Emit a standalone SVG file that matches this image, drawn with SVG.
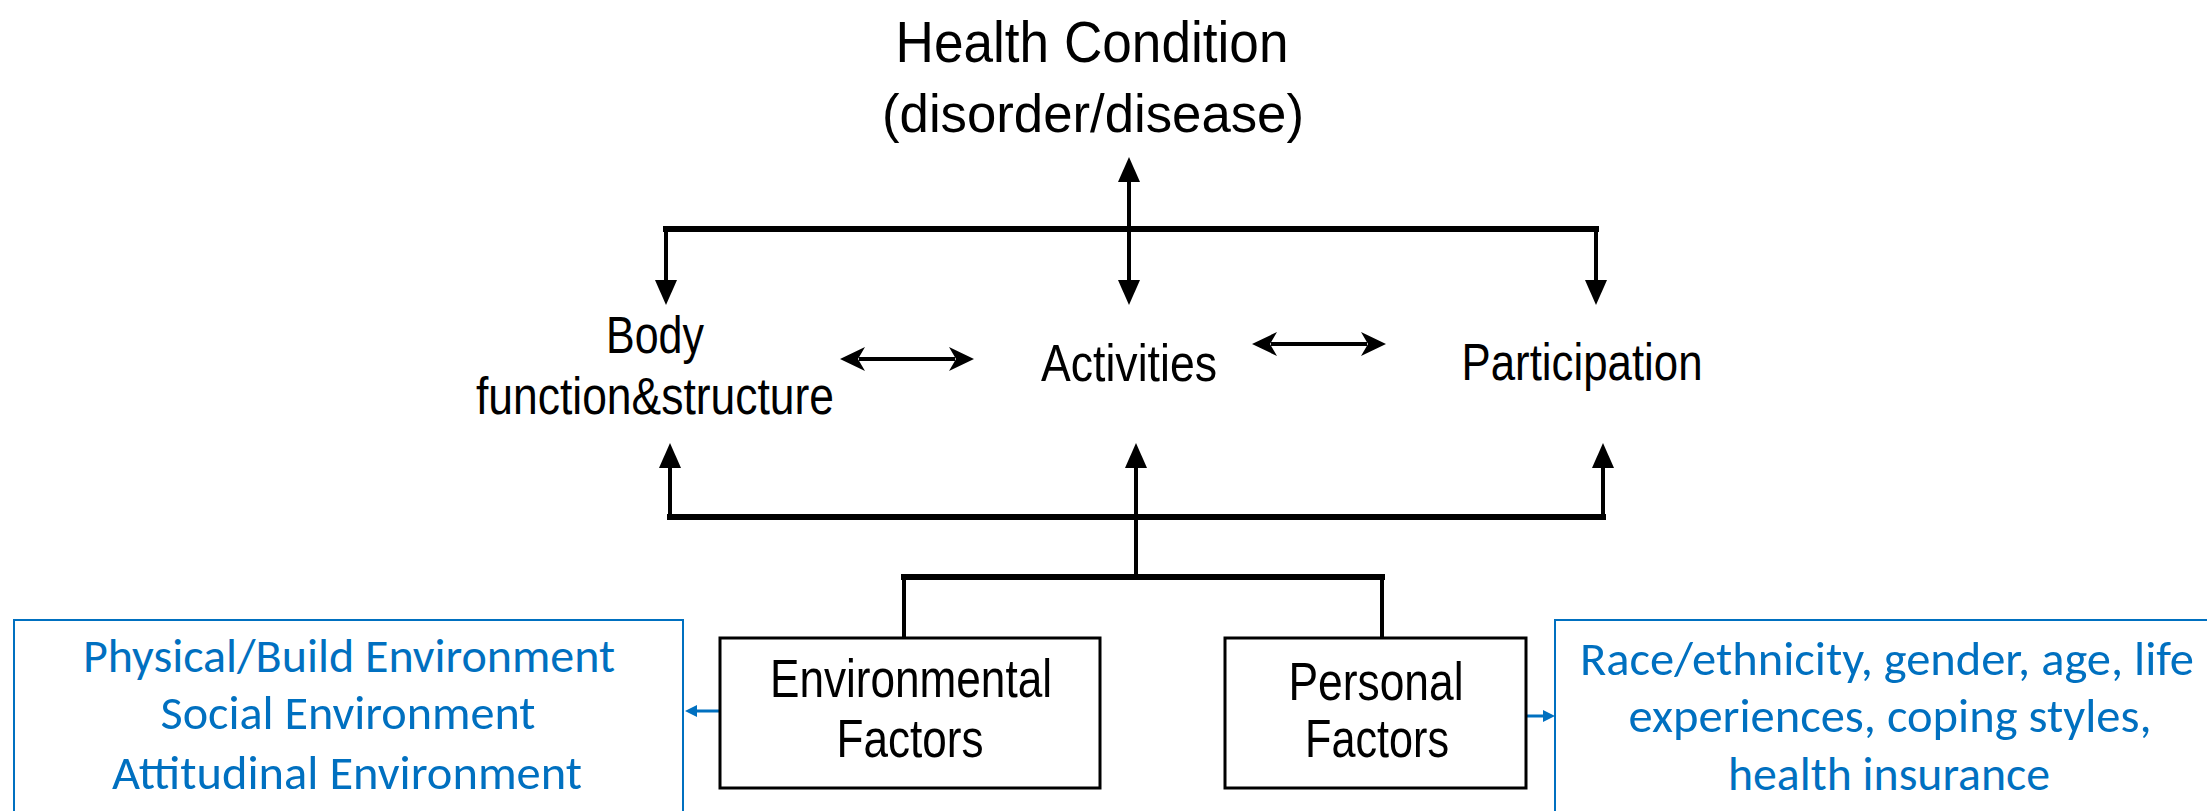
<svg xmlns="http://www.w3.org/2000/svg" width="2207" height="811" viewBox="0 0 2207 811">
<style>
.lbl{font-family:"Liberation Sans",Arial,Helvetica,sans-serif;fill:#000;text-anchor:middle}
.blue{font-family:Carlito,Calibri,"Open Sans","Liberation Sans",sans-serif;fill:#0070C0;text-anchor:middle;font-size:48px}
.ln{stroke:#000;stroke-width:4;fill:none}
.thick{stroke:#000;stroke-width:6;fill:none;stroke-linecap:square}
.box{fill:#fff;stroke:#000;stroke-width:3}
.bbox{fill:#fff;stroke:#0070C0;stroke-width:2}
.bln{stroke:#0070C0;stroke-width:3;fill:none}
</style>
<defs>
<marker id="tri" markerUnits="userSpaceOnUse" markerWidth="26" markerHeight="22" refX="1" refY="11" orient="auto-start-reverse">
<path d="M0,0 L25,11 L0,22 z" fill="#000"/>
</marker>
<marker id="barb" markerUnits="userSpaceOnUse" markerWidth="26" markerHeight="26" refX="6" refY="13" orient="auto-start-reverse">
<path d="M0,1 L25,13 L0,25 L7,13 z" fill="#000"/>
</marker>
<marker id="btri" markerUnits="userSpaceOnUse" markerWidth="13" markerHeight="12" refX="1" refY="6" orient="auto">
<path d="M0,0 L12,6 L0,12 z" fill="#0070C0"/>
</marker>
</defs>

<g id="connectors">
<line class="thick" x1="666" y1="229" x2="1596" y2="229"/>
<line class="ln" x1="666" y1="229" x2="666" y2="281" marker-end="url(#tri)"/>
<line class="ln" x1="1129" y1="181" x2="1129" y2="281" marker-start="url(#tri)" marker-end="url(#tri)"/>
<line class="ln" x1="1596" y1="229" x2="1596" y2="281" marker-end="url(#tri)"/>
<line class="ln" x1="859" y1="359" x2="955" y2="359" stroke-width="5" marker-start="url(#barb)" marker-end="url(#barb)"/>
<line class="ln" x1="1271" y1="344" x2="1367" y2="344" stroke-width="5" marker-start="url(#barb)" marker-end="url(#barb)"/>
<line class="thick" x1="670" y1="517" x2="1603" y2="517"/>
<line class="ln" x1="670" y1="517" x2="670" y2="467" marker-end="url(#tri)"/>
<line class="ln" x1="1136" y1="577" x2="1136" y2="467" marker-end="url(#tri)"/>
<line class="ln" x1="1603" y1="517" x2="1603" y2="467" marker-end="url(#tri)"/>
<line class="thick" x1="904" y1="577" x2="1382" y2="577"/>
<line class="ln" x1="904" y1="577" x2="904" y2="638"/>
<line class="ln" x1="1382" y1="577" x2="1382" y2="638"/>
<line class="bln" x1="730" y1="711" x2="696" y2="711" marker-end="url(#btri)"/>
<line class="bln" x1="1517" y1="716" x2="1544" y2="716" marker-end="url(#btri)"/>
</g>

<g id="health-condition">
<text class="lbl" x="1092" y="62" font-size="58" textLength="393" lengthAdjust="spacingAndGlyphs">Health Condition</text>
<text class="lbl" x="1093" y="132" font-size="54" textLength="422" lengthAdjust="spacingAndGlyphs">(disorder/disease)</text>
</g>

<g id="body-function">
<text class="lbl" x="655" y="353" font-size="51" textLength="98" lengthAdjust="spacingAndGlyphs">Body</text>
<text class="lbl" x="655" y="414" font-size="51" textLength="358" lengthAdjust="spacingAndGlyphs">function&amp;structure</text>
</g>

<g id="activities">
<text class="lbl" x="1129" y="381" font-size="52" textLength="176" lengthAdjust="spacingAndGlyphs">Activities</text>
</g>

<g id="participation">
<text class="lbl" x="1582" y="380" font-size="52" textLength="241" lengthAdjust="spacingAndGlyphs">Participation</text>
</g>

<g id="environmental-factors">
<rect class="box" x="720" y="638" width="380" height="150"/>
<text class="lbl" x="911" y="697" font-size="54" textLength="282" lengthAdjust="spacingAndGlyphs">Environmental</text>
<text class="lbl" x="910" y="757" font-size="54" textLength="147" lengthAdjust="spacingAndGlyphs">Factors</text>
</g>

<g id="personal-factors">
<rect class="box" x="1225" y="638" width="301" height="150"/>
<text class="lbl" x="1376" y="700" font-size="54" textLength="175" lengthAdjust="spacingAndGlyphs">Personal</text>
<text class="lbl" x="1377" y="757" font-size="54" textLength="144" lengthAdjust="spacingAndGlyphs">Factors</text>
</g>

<g id="environment-details">
<rect class="bbox" x="14" y="620" width="669" height="210"/>
<text class="blue" x="349" y="672" textLength="532" lengthAdjust="spacingAndGlyphs">Physical/Build Environment</text>
<text class="blue" x="348" y="729" textLength="375" lengthAdjust="spacingAndGlyphs">Social Environment</text>
<text class="blue" x="347" y="789" textLength="470" lengthAdjust="spacingAndGlyphs">Attitudinal Environment</text>
</g>

<g id="personal-details">
<rect class="bbox" x="1555" y="620" width="670" height="210"/>
<text class="blue" x="1887" y="675" textLength="614" lengthAdjust="spacingAndGlyphs">Race/ethnicity, gender, age, life</text>
<text class="blue" x="1890" y="732" textLength="523" lengthAdjust="spacingAndGlyphs">experiences, coping styles,</text>
<text class="blue" x="1889" y="790" textLength="322" lengthAdjust="spacingAndGlyphs">health insurance</text>
</g>
</svg>
